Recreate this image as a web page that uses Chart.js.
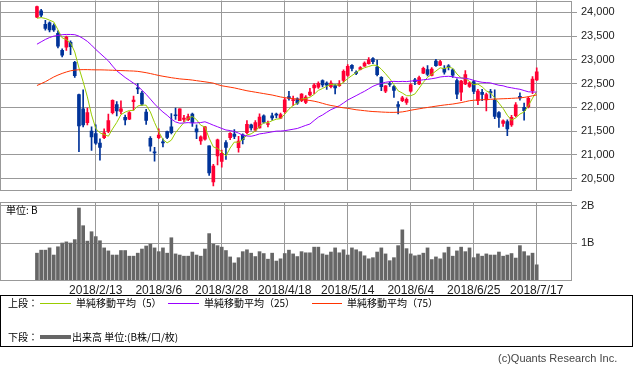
<!DOCTYPE html>
<html>
<head>
<meta charset="utf-8">
<script src="https://cdn.jsdelivr.net/npm/chart.js@4.4.1/dist/chart.umd.min.js"></script>
<style>
  body { margin: 0; background: #fff; }
  #wrap { position: relative; width: 633px; height: 371px; overflow: hidden; font-family: "Noto Sans CJK JP", sans-serif; }
  canvas { position: absolute; left: 0; }
  .t { position: absolute; font-size: 10px; line-height: 14px; white-space: nowrap; color: #000; }
  .ln { position: absolute; height: 1px; }
</style>
</head>
<body>
<div id="wrap">
  <canvas id="priceChart" width="633" height="191" style="top:0"></canvas>
  <canvas id="volChart" width="633" height="98" style="top:200px"></canvas>
  <div class="t" style="left:6px;top:203px">単位: B</div>

  <div style="position:absolute;left:0;top:295px;width:633px;height:52px;box-sizing:border-box;border:1px solid #000"></div>
  <div class="t" style="left:8px;top:296px">上段：</div>
  <div class="ln" style="left:40px;top:303px;width:31px;background:#99cc00"></div>
  <div class="t" style="left:76px;top:296px">単純移動平均（5）</div>
  <div class="ln" style="left:168px;top:303px;width:31px;background:#9900ff"></div>
  <div class="t" style="left:204px;top:296px">単純移動平均（25）</div>
  <div class="ln" style="left:312px;top:303px;width:30px;background:#ff3300"></div>
  <div class="t" style="left:347px;top:296px">単純移動平均（75）</div>
  <div class="t" style="left:8px;top:330px">下段：</div>
  <div class="ln" style="left:40px;top:335px;width:31px;height:4px;background:#666"></div>
  <div class="t" style="left:72px;top:330px">出来高 単位:(B株/口/枚)</div>
  <div class="t" style="left:498px;top:351px;font:11px 'Liberation Sans',Arial,sans-serif;line-height:14px;color:#444">(c)Quants Research Inc.</div>
</div>

<script>
// trading days shown
const dates = [
  "2018/1/23","2018/1/24","2018/1/25","2018/1/26","2018/1/29","2018/1/30","2018/1/31",
  "2018/2/1","2018/2/2","2018/2/5","2018/2/6","2018/2/7","2018/2/8","2018/2/9","2018/2/13","2018/2/14",
  "2018/2/15","2018/2/16","2018/2/19","2018/2/20","2018/2/21","2018/2/22","2018/2/23","2018/2/26","2018/2/27","2018/2/28",
  "2018/3/1","2018/3/2","2018/3/5","2018/3/6","2018/3/7","2018/3/8","2018/3/9","2018/3/12","2018/3/13","2018/3/14",
  "2018/3/15","2018/3/16","2018/3/19","2018/3/20","2018/3/22","2018/3/23","2018/3/26","2018/3/27","2018/3/28","2018/3/29","2018/3/30",
  "2018/4/2","2018/4/3","2018/4/4","2018/4/5","2018/4/6","2018/4/9","2018/4/10","2018/4/11","2018/4/12","2018/4/13",
  "2018/4/16","2018/4/17","2018/4/18","2018/4/19","2018/4/20","2018/4/23","2018/4/24","2018/4/25","2018/4/26","2018/4/27",
  "2018/5/1","2018/5/2","2018/5/7","2018/5/8","2018/5/9","2018/5/10","2018/5/11","2018/5/14","2018/5/15","2018/5/16",
  "2018/5/17","2018/5/18","2018/5/21","2018/5/22","2018/5/23","2018/5/24","2018/5/25","2018/5/28","2018/5/29","2018/5/30","2018/5/31",
  "2018/6/1","2018/6/4","2018/6/5","2018/6/6","2018/6/7","2018/6/8","2018/6/11","2018/6/12","2018/6/13","2018/6/14","2018/6/15",
  "2018/6/18","2018/6/19","2018/6/20","2018/6/21","2018/6/22","2018/6/25","2018/6/26","2018/6/27","2018/6/28","2018/6/29",
  "2018/7/2","2018/7/3","2018/7/4","2018/7/5","2018/7/6","2018/7/9","2018/7/10","2018/7/11","2018/7/12","2018/7/13","2018/7/17"
];
const tickDates = ["2018/2/13","2018/3/6","2018/3/28","2018/4/18","2018/5/14","2018/6/4","2018/6/25","2018/7/17"];
const priceTicks = [20500, 21000, 21500, 22000, 22500, 23000, 23500, 24000];
const volTicks = [1, 2];

const opens = [
  23900,24030,23750,23780,23720,23560,23200,23270,23370,22950,
  22270,21970,21680,21500,21450,21250,21360,21500,21890,22060,
  21915,21790,21750,22120,22410,22300,21900,21350,21055,21360,
  21265,21490,21590,21830,21720,21745,21740,21860,21550,21295,
  21330,21190,20430,20976,20860,21258,21364,21436,21150,21420,
  21470,21633,21520,21570,21824,21640,21824,21845,21775,21909,
  22227,22142,22178,22142,22106,22262,22410,22424,22565,22509,
  22438,22459,22459,22565,22671,22883,22740,22798,22869,22919,
  23025,22847,22635,22339,22500,22438,22057,22142,22106,22339,
  22580,22495,22720,22798,22671,22974,22890,22820,22876,22792,
  22565,22320,22495,22440,22544,22142,22318,22156,22330,22156,
  21888,21661,21703,21633,21824,22230,22000,22015,22353,22580
];
const highs = [
  24130,24065,23830,23800,23760,23610,23230,23500,23400,22970,
  22280,22370,21985,21590,21630,21340,21550,21860,22160,22120,
  22140,21840,21910,22240,22500,22340,21960,21385,21160,21550,
  21340,21500,21870,21985,21970,21830,21860,21880,21630,21400,
  21600,21190,20800,21330,21100,21300,21470,21530,21390,21443,
  21720,21650,21720,21866,21845,21710,21880,21880,21880,22190,
  22340,22240,22200,22290,22250,22400,22500,22540,22580,22540,
  22560,22480,22565,22790,22900,22900,22770,22860,22960,23050,
  23050,22998,22650,22460,22540,22460,22120,22230,22200,22500,
  22610,22660,22850,22880,22840,23010,22990,22880,22900,22810,
  22600,22570,22777,22540,22565,22380,22380,22300,22380,22368,
  21910,21740,21740,21830,22100,22305,22090,22220,22650,22830
];
const lows = [
  23890,23905,23625,23590,23600,23250,23060,23200,23110,22630,
  21070,21590,21630,21095,21220,20890,21340,21470,21860,21820,
  21860,21630,21740,21940,22290,22040,21640,21080,20870,21340,
  21170,21340,21440,21745,21720,21700,21720,21600,21340,21220,
  21310,20570,20347,20790,20743,20905,21320,21340,21056,21230,
  21443,21520,21500,21560,21670,21590,21730,21780,21760,21880,
  22150,22036,22060,22120,22080,22240,22290,22400,22430,22380,
  22410,22283,22440,22530,22650,22770,22690,22790,22860,22910,
  22920,22660,22350,22310,22440,22210,21860,22120,22060,22320,
  22480,22480,22710,22660,22660,22860,22880,22700,22790,22630,
  22184,22142,22480,22420,22290,22057,22142,21924,22200,21760,
  21576,21600,21404,21600,21800,22150,21733,21990,22290,22560
];
const closes = [
  24120,23940,23660,23630,23630,23290,23100,23480,23280,22670,
  21610,21630,21890,21380,21245,21155,21465,21720,22150,21925,
  21970,21736,21892,22153,22390,22068,21724,21182,21042,21418,
  21253,21368,21469,21824,21968,21777,21804,21677,21481,21381,
  21592,20618,20766,21317,21031,21159,21454,21389,21292,21320,
  21645,21568,21678,21794,21687,21660,21779,21836,21848,22158,
  22191,22162,22088,22278,22215,22320,22468,22508,22473,22467,
  22509,22409,22497,22758,22866,22818,22717,22838,22930,23002,
  22960,22690,22437,22451,22481,22358,22019,22202,22171,22476,
  22540,22626,22823,22695,22804,22878,22966,22739,22852,22680,
  22278,22555,22693,22517,22338,22342,22272,22270,22305,21812,
  21786,21717,21547,21788,22052,22197,21932,22188,22597,22750
];
const ma5 = [
  23876,23890,23872,23836,23799,23633,23464,23427,23356,23167,
  22830,22540,22221,21842,21555,21464,21428,21393,21547,21683,
  21846,21900,21935,21936,22029,22048,22046,21904,21681,21487,
  21324,21253,21310,21466,21576,21681,21768,21810,21741,21624,
  21587,21350,21168,21135,21065,20978,21145,21270,21265,21323,
  21420,21443,21501,21601,21674,21677,21720,21751,21762,21856,
  21962,22039,22089,22175,22187,22213,22274,22358,22397,22447,
  22485,22473,22471,22528,22608,22670,22731,22799,22834,22861,
  22889,22884,22804,22708,22604,22483,22349,22302,22246,22245,
  22282,22403,22527,22632,22698,22765,22833,22816,22848,22823,
  22703,22621,22612,22545,22476,22489,22432,22348,22305,22200,
  22089,21978,21833,21730,21778,21860,21903,22031,22193,22333
];
const ma25 = [
  23330,23380,23430,23470,23500,23515,23530,23535,23535,23530,
  23500,23450,23390,23310,23220,23140,23060,22980,22870,22770,
  22700,22630,22570,22510,22446,22364,22275,22175,22072,21983,
  21902,21833,21752,21694,21666,21672,21679,21670,21674,21680,
  21697,21663,21625,21592,21556,21524,21512,21492,21458,21415,
  21398,21392,21412,21442,21453,21469,21485,21500,21501,21509,
  21525,21540,21556,21588,21621,21650,21724,21794,21840,21898,
  21952,21990,22034,22093,22155,22201,22247,22294,22339,22392,
  22444,22480,22504,22528,22541,22548,22542,22547,22543,22553,
  22562,22568,22581,22590,22603,22618,22640,22650,22654,22646,
  22625,22618,22612,22596,22569,22545,22528,22521,22515,22489,
  22466,22454,22427,22412,22395,22381,22354,22328,22324,22322
];
const ma75 = [
  22460,22500,22540,22590,22640,22680,22715,22745,22770,22785,
  22792,22795,22795,22792,22790,22790,22788,22785,22782,22778,
  22775,22772,22768,22765,22758,22745,22730,22712,22692,22672,
  22655,22640,22625,22612,22600,22592,22585,22575,22562,22550,
  22538,22525,22510,22480,22455,22440,22425,22410,22390,22370,
  22350,22335,22320,22305,22290,22275,22260,22240,22220,22205,
  22195,22185,22175,22165,22155,22145,22130,22110,22085,22060,
  22040,22025,22005,21990,21980,21965,21950,21940,21930,21920,
  21912,21908,21902,21898,21895,21895,21898,21905,21920,21940,
  21955,21970,21985,21998,22012,22025,22038,22050,22060,22070,
  22085,22100,22120,22140,22150,22155,22160,22165,22170,22175,
  22178,22182,22185,22190,22195,22200,22210,22225,22245,22262
];
// volume, billions of shares
const volumes = [
  0.74,0.82,0.82,0.88,0.69,0.91,1.01,1.04,1.01,1.10,
  1.94,1.47,1.06,1.31,1.18,1.07,0.88,0.80,0.69,0.69,
  0.81,0.81,0.66,0.66,0.74,0.85,0.93,0.98,0.88,0.78,
  0.88,0.74,1.15,0.72,0.69,0.66,0.66,0.77,0.69,0.66,
  0.85,1.26,0.98,0.94,0.90,0.81,0.64,0.48,0.62,0.78,
  0.83,0.74,0.65,0.78,0.73,0.58,0.74,0.53,0.59,0.73,
  0.82,0.72,0.65,0.78,0.75,0.75,0.90,0.90,0.72,0.69,
  0.77,0.88,0.75,0.83,0.69,0.88,0.83,0.78,0.67,0.59,
  0.62,0.77,0.88,0.72,0.54,0.62,0.94,1.36,0.86,0.72,
  0.67,0.69,0.74,0.88,0.57,0.64,0.59,0.75,0.90,0.66,
  0.80,0.90,0.78,0.88,0.62,0.72,0.66,0.72,0.69,0.69,
  0.77,0.66,0.69,0.73,0.61,0.94,0.78,0.67,0.74,0.43
];

const gridColor = "#999999";
const upColor = "#ff0033";
const downColor = "#003399";
const xMin = -8.8, xMax = 127.4;   // empty margin on both sides like the original
const numFont = { family: "'Liberation Sans', Arial, sans-serif", size: 11 };

// draw a box round the plot area
const frame = {
  id: "frame",
  afterDraw(c) {
    const a = c.chartArea, ctx = c.ctx;
    const x0 = Math.round(a.left) + 0.5, y0 = Math.round(a.top) + 0.5;
    const x1 = Math.round(a.right) - 0.5, y1 = Math.round(a.bottom) - 0.5;
    ctx.save();
    ctx.strokeStyle = gridColor;
    ctx.lineWidth = 1;
    ctx.strokeRect(x0, y0, x1 - x0, y1 - y0);
    ctx.restore();
  }
};

// keep the labels from pushing the plot area in
function noPad(s) {
  s.paddingTop = 0; s.paddingBottom = 0; s.paddingLeft = 0; s.paddingRight = 0;
}

const xTicks = tickDates.map(d => ({ value: dates.indexOf(d) }));
const candleColors = opens.map((o, i) => (closes[i] >= o ? upColor : downColor));

function maLine(values, color) {
  return {
    type: "line",
    data: values.map((v, i) => ({ x: i, y: v })),
    borderColor: color,
    borderWidth: 1,
    pointRadius: 0,
    tension: 0,
    order: 0
  };
}

new Chart(document.getElementById("priceChart"), {
  type: "bar",
  data: {
    datasets: [
      {
        data: lows.map((l, i) => ({ x: i, y: [l, highs[i]] })),
        backgroundColor: candleColors,
        barThickness: 1,
        grouped: false,
        order: 2
      },
      {
        data: opens.map((o, i) => ({ x: i, y: [o, closes[i]] })),
        backgroundColor: candleColors,
        barThickness: 3,
        minBarLength: 1,
        grouped: false,
        order: 1
      },
      maLine(ma75, "#ff3300"),
      maLine(ma25, "#9900ff"),
      maLine(ma5, "#99cc00")
    ]
  },
  options: {
    responsive: false,
    animation: false,
    events: [],
    layout: { padding: { top: 0.5, bottom: 0.5, left: 0, right: 0 } },
    plugins: { legend: { display: false }, tooltip: { enabled: false } },
    scales: {
      x: {
        type: "linear",
        offset: false,
        min: xMin,
        max: xMax,
        afterBuildTicks: s => { s.ticks = xTicks.map(t => ({ ...t })); },
        afterFit: s => { s.height = 0; noPad(s); },
        ticks: { display: false },
        grid: { color: gridColor, drawTicks: false, offset: false },
        border: { display: false }
      },
      y: {
        position: "right",
        min: 20250,
        max: 24250,
        afterBuildTicks: s => { s.ticks = priceTicks.map(v => ({ value: v })); },
        afterFit: s => { s.width = 61; noPad(s); },
        ticks: { color: "#222", font: numFont, padding: 4, callback: v => v.toLocaleString("en-US") },
        grid: { color: gridColor, tickLength: 5 },
        border: { display: false }
      }
    }
  },
  plugins: [frame]
});

new Chart(document.getElementById("volChart"), {
  type: "bar",
  data: {
    datasets: [{
      data: volumes.map((v, i) => ({ x: i, y: v })),
      backgroundColor: "#666666",
      barThickness: 3
    }]
  },
  options: {
    responsive: false,
    animation: false,
    events: [],
    layout: { padding: { top: 2, bottom: 0, left: 0, right: 0 } },
    plugins: { legend: { display: false }, tooltip: { enabled: false } },
    scales: {
      x: {
        type: "linear",
        offset: false,
        min: xMin,
        max: xMax,
        afterBuildTicks: s => { s.ticks = xTicks.map(t => ({ ...t })); },
        afterFit: s => { s.height = 17; noPad(s); },
        ticks: {
          color: "#222",
          font: { family: numFont.family, size: 12 },
          padding: 2,
          autoSkip: false,
          maxRotation: 0,
          callback: v => dates[v]
        },
        grid: { color: gridColor, drawTicks: false, offset: false },
        border: { display: false }
      },
      y: {
        position: "right",
        min: 0,
        max: 2.1,
        afterBuildTicks: s => { s.ticks = volTicks.map(v => ({ value: v })); },
        afterFit: s => { s.width = 61; noPad(s); },
        ticks: { color: "#222", font: numFont, padding: 4, callback: v => v + "B" },
        grid: { color: gridColor, tickLength: 5 },
        border: { display: false }
      }
    }
  },
  plugins: [frame]
});
</script>
</body>
</html>
